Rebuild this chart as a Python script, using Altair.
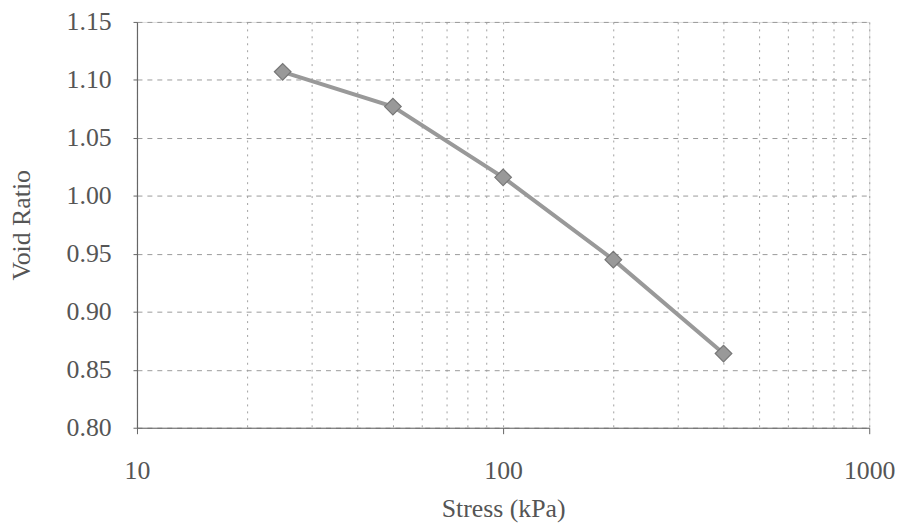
import altair as alt
import pandas as pd

stress = [25, 50, 100, 200, 400]
void_ratio = [1.107, 1.077, 1.016, 0.945, 0.864]

x_grid = [10, 20, 30, 40, 50, 60, 70, 80, 90, 100,
          200, 300, 400, 500, 600, 700, 800, 900, 1000]
y_ticks = [0.80, 0.85, 0.90, 0.95, 1.00, 1.05, 1.10, 1.15]
x_labels = [10, 100, 1000]

df = pd.DataFrame({"stress": stress, "void": void_ratio})

FONT = "Liberation Serif"
label_test = " || ".join(f"datum.value == {v}" for v in x_labels)

x_enc = alt.X(
    "stress:Q",
    scale=alt.Scale(type="log", domain=[10, 1000], nice=False),
    axis=alt.Axis(
        values=x_grid,
        format="d",
        labelExpr=f"({label_test}) ? datum.label : ''",
        title="Stress (kPa)",
        grid=True,
        gridDash=[2, 5],
        gridColor="#a0a0a0",
        gridWidth=1,
        domainColor="#666666",
        domainWidth=1.2,
        tickSize=6,
        tickColor="#666666",
        tickOpacity={"condition": {"test": label_test, "value": 1}, "value": 0},
        labelPadding=24,
        labelFont=FONT,
        labelFontSize=26,
        labelColor="#555555",
        labelFlush=False,
        titleFont=FONT,
        titleFontSize=26,
        titleFontWeight="normal",
        titleColor="#555555",
        titlePadding=12,
    ),
)

y_enc = alt.Y(
    "void:Q",
    scale=alt.Scale(domain=[0.80, 1.15], nice=False, zero=False),
    axis=alt.Axis(
        values=y_ticks,
        format=".2f",
        title="Void Ratio",
        grid=True,
        gridDash=[5, 5],
        gridColor="#9a9a9a",
        gridWidth=1,
        domainColor="#666666",
        domainWidth=1.2,
        tickSize=4,
        tickColor="#666666",
        labelPadding=22,
        labelFont=FONT,
        labelFontSize=26,
        labelColor="#555555",
        titleFont=FONT,
        titleFontSize=26,
        titleFontWeight="normal",
        titleColor="#555555",
        titlePadding=32,
    ),
)

line = alt.Chart(df).mark_line(color="#999999", strokeWidth=4).encode(x=x_enc, y=y_enc)
points = alt.Chart(df).mark_point(
    shape="diamond", size=280, filled=True, color="#999999",
    stroke="#777777", strokeWidth=1.2, opacity=1
).encode(x="stress:Q", y="void:Q")

chart = (line + points).properties(
    width=738,
    height=409,
    autosize=alt.AutoSizeParams(type="none"),
    padding={"left": 130, "top": 12, "right": 30, "bottom": 100},
).configure_view(stroke=None).configure(background="white")

chart.save("out.html", embed_options={"renderer": "svg", "actions": False})
